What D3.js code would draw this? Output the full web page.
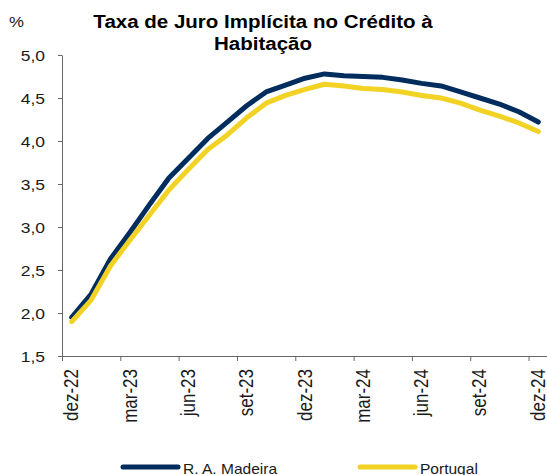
<!DOCTYPE html>
<html>
<head>
<meta charset="utf-8">
<script src="https://cdn.jsdelivr.net/npm/d3@7"></script>
<style>
  body { margin: 0; background: #fff; }
  text { font-family: "Liberation Sans", Arial, sans-serif; fill: #1a1a1a; }
</style>
</head>
<body>
<script>
    //Width and height
    var w = 547;
    var h = 475;

    //Data
    var months = ["dez-22","jan-23","fev-23","mar-23","abr-23","mai-23","jun-23","jul-23","ago-23",
                  "set-23","out-23","nov-23","dez-23","jan-24","fev-24","mar-24","abr-24","mai-24",
                  "jun-24","jul-24","ago-24","set-24","out-24","nov-24","dez-24"];
    var madeira = [1.95, 2.22, 2.63, 2.94, 3.26, 3.57, 3.80, 4.03, 4.22, 4.41, 4.57, 4.65, 4.73,
                   4.78, 4.76, 4.75, 4.74, 4.71, 4.67, 4.64, 4.57, 4.50, 4.43, 4.34, 4.22];
    var portugal = [1.90, 2.15, 2.55, 2.85, 3.14, 3.43, 3.67, 3.90, 4.07, 4.27, 4.44, 4.53, 4.60,
                    4.66, 4.64, 4.61, 4.60, 4.57, 4.53, 4.50, 4.44, 4.36, 4.29, 4.21, 4.11];
    var yTicks = [1.5, 2.0, 2.5, 3.0, 3.5, 4.0, 4.5, 5.0];
    var xTickIdx = [0, 3, 6, 9, 12, 15, 18, 21, 24];

    var series = [
      { name: "R. A. Madeira", values: madeira, color: "#002d5e" },
      { name: "Portugal", values: portugal, color: "#f2d325" }
    ];

    //Create SVG element
    var svg = d3.select("body")
                .append("svg")
                .attr("width", w)
                .attr("height", h);

    //scales: one band per month, tick marks sit between the bands
    var x = d3.scaleLinear().domain([0, months.length]).range([62, 548]);
    var y = d3.scaleLinear().domain([1.5, 5.0]).range([356, 55]);

    //title
    svg.append("text")
       .attr("transform", "translate(263,28) scale(1.08,1)")
       .attr("text-anchor", "middle")
       .style("font-size", "19px").style("font-weight", "bold").style("fill", "#000")
       .text("Taxa de Juro Implícita no Crédito à");
    svg.append("text")
       .attr("transform", "translate(263,50) scale(1.08,1)")
       .attr("text-anchor", "middle")
       .style("font-size", "19px").style("font-weight", "bold").style("fill", "#000")
       .text("Habitação");

    svg.append("text")
       .attr("transform", "translate(9,27) scale(1.2,1)")
       .style("font-size", "14px")
       .text("%");

    //y axis
    var yAxis = svg.append("g")
        .attr("transform", "translate(62,0)")
        .call(d3.axisLeft(y).tickValues(yTicks).tickSize(4).tickSizeOuter(0)
                .tickFormat(function(d) { return d3.format(".1f")(d).replace(".", ","); }));
    yAxis.selectAll("path, line").attr("stroke", "#666");
    yAxis.selectAll("text")
         .attr("x", null).attr("dy", null)
         .attr("transform", "translate(-17,5) scale(1.25,1)")
         .style("font-size", "14px").style("font-family", null);

    //x axis
    var xAxis = svg.append("g")
        .attr("transform", "translate(0,356)")
        .call(d3.axisBottom(x).tickValues(xTickIdx).tickSize(5).tickSizeOuter(0)
                .tickFormat(function(i) { return months[i]; }));
    xAxis.selectAll("path, line").attr("stroke", "#666");
    xAxis.selectAll("text")
         .attr("y", null).attr("dy", null)
         .attr("text-anchor", "end")
         .attr("transform", function(i) {
            var off = x(i + 0.5) - x(i);
            return "translate(" + (off + 6) + ",13) scale(1.18,1) rotate(-90)";
         })
         .style("font-size", "17px").style("font-family", null);

    //lines
    var line = d3.line()
        .x(function(d, i) { return x(i + 0.5); })
        .y(function(d) { return y(d); });

    svg.selectAll("path.series")
       .data(series)
       .enter()
       .append("path")
       .attr("class", "series")
       .attr("d", function(d) { return line(d.values); })
       .attr("fill", "none")
       .attr("stroke", function(d) { return d.color; })
       .attr("stroke-width", 5)
       .attr("stroke-linejoin", "round")
       .attr("stroke-linecap", "round");

    //legend
    var legX = [123, 360];
    var leg = svg.selectAll("g.legend")
        .data(series)
        .enter()
        .append("g")
        .attr("class", "legend")
        .attr("transform", function(d, i) { return "translate(" + legX[i] + ",467)"; });
    leg.append("line")
       .attr("x1", 0).attr("x2", 55)
       .attr("stroke", function(d) { return d.color; })
       .attr("stroke-width", 5)
       .attr("stroke-linecap", "round");
    leg.append("text")
       .attr("transform", "translate(60,6.5) scale(1.11,1)")
       .style("font-size", "14px")
       .text(function(d) { return d.name; });
</script>
</body>
</html>
